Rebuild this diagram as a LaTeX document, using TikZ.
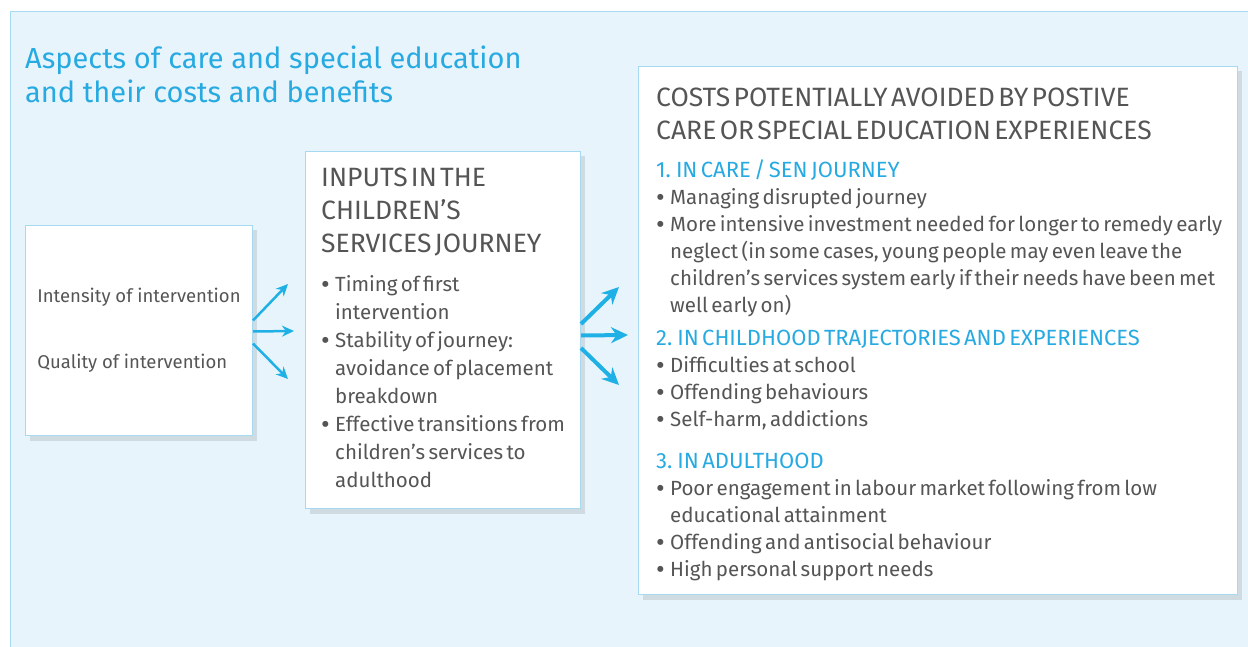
\documentclass[tikz,border=0pt]{standalone}
\usepackage{fontspec}
\setmainfont{Fira Sans}
\usetikzlibrary{arrows.meta,shadows}

\definecolor{panelblue}{HTML}{E8F4FB}
\definecolor{edgeblue}{HTML}{A6DAF3}
\definecolor{titleblue}{HTML}{27AAE1}
\definecolor{arrowblue}{HTML}{1FB1E6}
\definecolor{textgrey}{HTML}{555555}

\newcommand{\bighead}{\fontsize{26.5pt}{33pt}\selectfont}
\newcommand{\subhead}{\fontsize{22pt}{33pt}\selectfont\color{titleblue}}
\newcommand{\bitem}[1]{\par\noindent\hangindent=14pt\hangafter=1\makebox[14pt][l]{\raisebox{-0.15ex}{\scalebox{1.3}{\textbullet}}}#1}

\tikzset{
    box/.style={draw=edgeblue, line width=1pt, fill=white, anchor=north west, inner sep=0pt,
        drop shadow={shadow xshift=4pt, shadow yshift=-5pt, opacity=0.1, fill=black}},
    boxtext/.style={anchor=north west, inner sep=0pt, align=left, text=textgrey},
    thinarrow/.style={draw=arrowblue, line width=2.5pt, -{Stealth[length=12pt, width=11pt]}},
    thickarrow/.style={draw=arrowblue, line width=4pt, -{Stealth[length=17pt, width=16pt]}},
}

\begin{document}
\begin{tikzpicture}[x=1pt, y=-1pt]
    \useasboundingbox (0,0) rectangle (1248,647);
    % background panel
    \fill[panelblue] (10,12) rectangle (1248,647);
    \draw[edgeblue, line width=1pt] (10,647) |- (1248,12);

    \node[anchor=north west, inner sep=0pt, align=left, text=titleblue,
        font=\fontsize{29pt}{34pt}\selectfont] (title) at (25,46)
        {Aspects of care and special education\\and their costs and benefits};

    % the three boxes
    \node[box, minimum width=227pt, minimum height=210pt, align=left, text=textgrey,
        font=\fontsize{18.5pt}{66pt}\selectfont] (quality) at (25,225)
        {Intensity of intervention\\Quality of intervention};
    \node[box, minimum width=275pt, minimum height=357pt] (inputs) at (305,151) {};
    \node[box, minimum width=599pt, minimum height=528pt] (costs) at (638,66) {};

    \node[boxtext, text width=258pt] (inputstext) at ([shift={(16,17)}]inputs.north west) {%
        {\bighead INPUTS IN THE\\CHILDREN'S\\SERVICES JOURNEY\par}
        \vspace{11pt}
        \fontsize{20.5pt}{28pt}\selectfont
        \bitem{Timing of first\break intervention}
        \bitem{Stability of journey:\break avoidance of placement\break breakdown}
        \bitem{Effective transitions from\break children's services to\break adulthood}\par};

    \node[boxtext, text width=590pt] (coststext) at ([shift={(18,22)}]costs.north west) {%
        {\bighead COSTS POTENTIALLY AVOIDED BY POSTIVE\\CARE OR SPECIAL EDUCATION EXPERIENCES\par}
        \vspace{5pt}
        {\subhead 1. IN CARE / SEN JOURNEY\par}
        \fontsize{20.5pt}{27pt}\selectfont
        \bitem{Managing disrupted journey}
        \bitem{More intensive investment needed for longer to remedy early\break neglect (in some cases, young people may even leave the\break children's services system early if their needs have been met\break well early on)}\par
        {\subhead 2. IN CHILDHOOD TRAJECTORIES AND EXPERIENCES\par}
        \bitem{Difficulties at school}
        \bitem{Offending behaviours}
        \bitem{Self-harm, addictions}\par
        \vspace{9pt}
        {\subhead 3. IN ADULTHOOD\par}
        \bitem{Poor engagement in labour market following from low\break educational attainment}
        \bitem{Offending and antisocial behaviour}
        \bitem{High personal support needs}\par};

    % fanning arrows
    \coordinate (q1) at (288,284);
    \coordinate (q2) at (294,331);
    \coordinate (q3) at (288,379);
    \coordinate (c1) at (619,287);
    \coordinate (c2) at (628,335);
    \coordinate (c3) at (619,385);

    \draw[thinarrow] ([yshift=10pt]quality.east) -- (q1);
    \draw[thinarrow] ([yshift=-1pt]quality.east) -- (q2);
    \draw[thinarrow] ([yshift=-13pt]quality.east) -- (q3);
    \draw[thickarrow] ([yshift=6pt]inputs.east) -- (c1);
    \draw[thickarrow] ([yshift=-5.5pt]inputs.east) -- (c2);
    \draw[thickarrow] ([yshift=-18pt]inputs.east) -- (c3);
\end{tikzpicture}
\end{document}
